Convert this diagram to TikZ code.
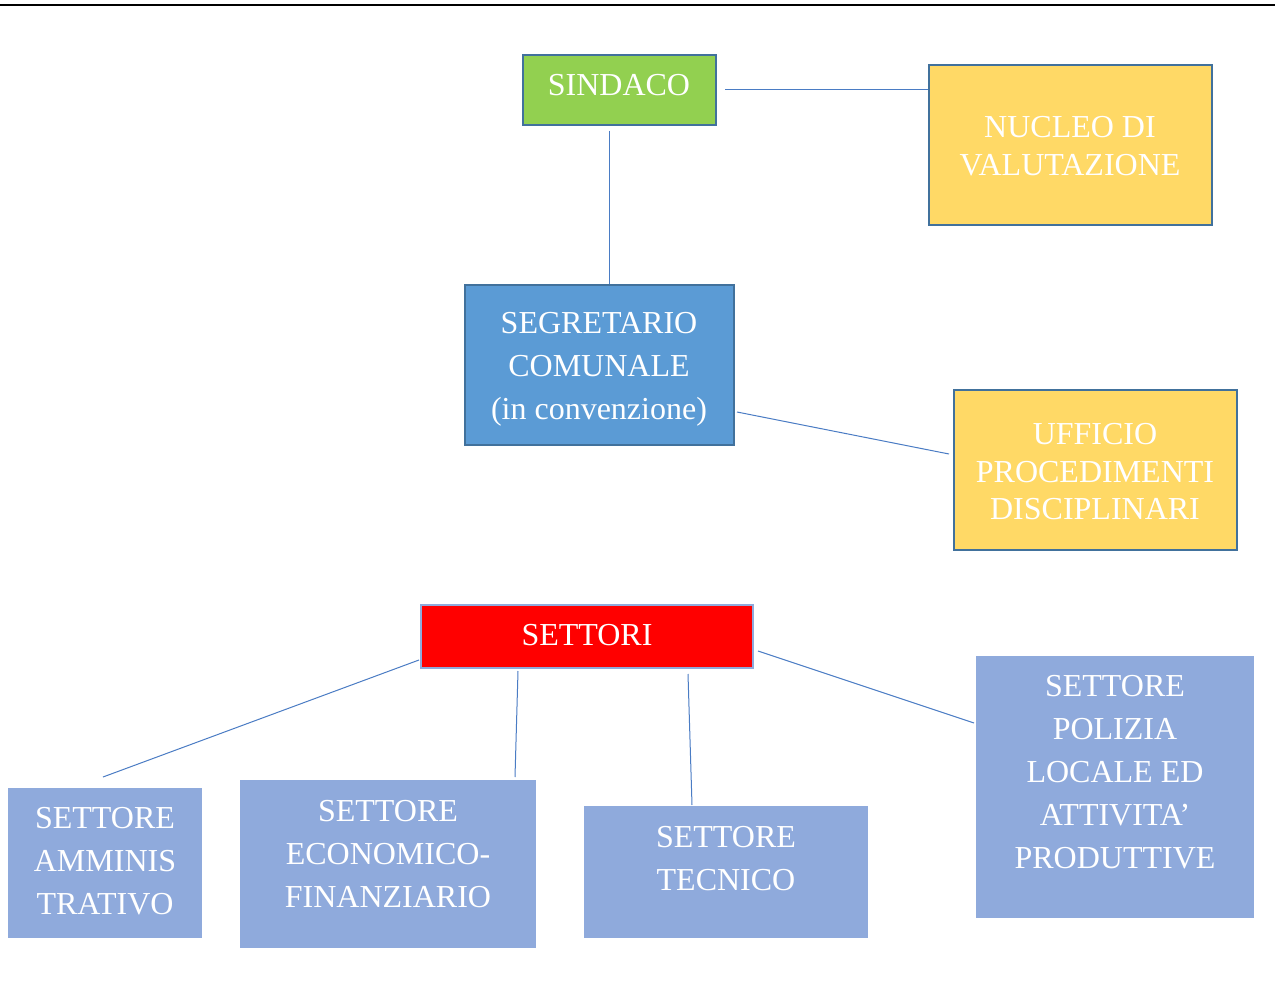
\documentclass[tikz,border=0pt]{standalone}
\usepackage{fontspec}
\setmainfont{Liberation Serif}
\definecolor{bgreen}{HTML}{92D050}
\definecolor{byellow}{HTML}{FFD966}
\definecolor{bblue}{HTML}{5B9BD5}
\definecolor{bborder}{HTML}{41719C}
\definecolor{blight}{HTML}{8FAADC}
\definecolor{bline}{HTML}{4A7CC4}
\begin{document}
\begin{tikzpicture}[x=1pt,y=-1pt,
  box/.style={rectangle,inner sep=0pt,line width=2pt},
  darkbox/.style={box,draw=bborder},
  flatbox/.style={box,fill=blight},
  txt/.style={text=white,align=center,inner sep=0pt,font=\fontsize{32}{43}\selectfont},
  txtb/.style={txt,font=\fontsize{32}{37.5}\selectfont},
  conn/.style={draw=bline,line width=1pt}]
\useasboundingbox (0,0) rectangle (1275,1008);
\fill[white] (0,0) rectangle (1275,1008);
\draw[line width=2.2pt] (0,5) -- (1275,5);
% boxes
\node[darkbox,fill=bgreen,minimum width=193pt,minimum height=70pt] (sindaco) at (619.5,90) {};
\node[darkbox,fill=byellow,minimum width=283pt,minimum height=160pt] (nucleo) at (1070.5,145) {};
\node[darkbox,fill=bblue,minimum width=269pt,minimum height=160pt] (segretario) at (599.5,365) {};
\node[darkbox,fill=byellow,minimum width=283pt,minimum height=160pt] (ufficio) at (1095.5,470) {};
\node[box,draw=blight,fill=red,minimum width=332pt,minimum height=63pt] (settori) at (587,636.5) {};
\node[flatbox,minimum width=194pt,minimum height=150pt] (amminis) at (105,863) {};
\node[flatbox,minimum width=296pt,minimum height=168pt] (economico) at (388,864) {};
\node[flatbox,minimum width=284pt,minimum height=132pt] (tecnico) at (726,872) {};
\node[flatbox,minimum width=278pt,minimum height=262pt] (polizia) at (1115,787) {};
% texts
\node[txt] (tsindaco) at (619,85) {SINDACO};
\node[txtb] (tnucleo) at (1070,146) {NUCLEO DI\\VALUTAZIONE};
\node[txt] (tsegretario) at (599,369.5) {SEGRETARIO\\COMUNALE\\(in convenzione)};
\node[txtb] (tufficio) at (1095,472) {UFFICIO\\PROCEDIMENTI\\DISCIPLINARI};
\node[txt] (tsettori) at (587,635) {SETTORI};
\node[txt] (tamminis) at (105,861) {SETTORE\\AMMINIS\\TRATIVO};
\node[txt] (teconomico) at (388,854) {SETTORE\\ECONOMICO-\\FINANZIARIO};
\node[txt] (ttecnico) at (726,858.5) {SETTORE\\TECNICO};
\node[txt] (tpolizia) at (1115,772.5) {SETTORE\\POLIZIA\\LOCALE ED\\ATTIVITA’\\PRODUTTIVE};
% connectors
\draw[conn] ([xshift=8pt]sindaco.east) -- (sindaco.east -| nucleo.west);
\draw[conn] ([xshift=-10pt,yshift=-5pt]sindaco.south) -- ([xshift=-10pt]sindaco.south |- segretario.north);
\draw[conn] ([xshift=2pt,yshift=-47pt]segretario.east) -- ([xshift=-4pt,yshift=16pt]ufficio.west);
\draw[conn] ([xshift=-1pt,yshift=9pt]settori.south west) -- ([xshift=-2pt,yshift=10pt]amminis.north);
\draw[conn] ([xshift=-69pt,yshift=-2pt]settori.south) -- ([xshift=-22pt,yshift=2pt]economico.north east);
\draw[conn] ([xshift=101pt,yshift=-5pt]settori.south) -- ([xshift=-34pt]tecnico.north);
\draw[conn] ([xshift=4pt,yshift=-14.5pt]settori.east) -- ([xshift=-1pt,yshift=64pt]polizia.west);
\end{tikzpicture}
\end{document}
